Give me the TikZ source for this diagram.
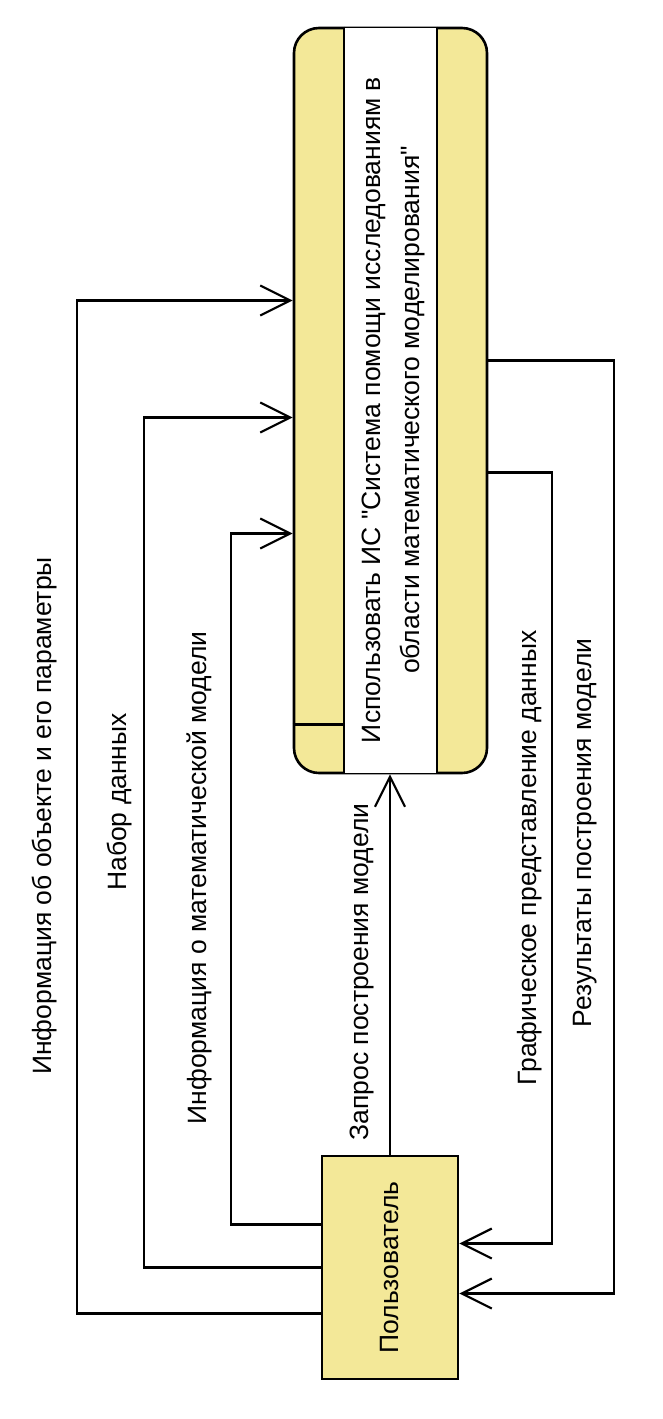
\documentclass[tikz,border=0pt]{standalone}
\usepackage{fontspec}
\setmainfont{Liberation Sans}[Ligatures=TeXOff]
\usetikzlibrary{positioning, arrows.meta}

\definecolor{idefyellow}{RGB}{243,232,152}

\begin{document}
\begin{tikzpicture}[
x=1pt, y=-1pt,
box/.style={rectangle, draw, line width=2.6pt, fill=idefyellow, inner sep=0pt},
arrow/.style={-{Straight Barb[length=30pt, width=30pt, line width=2.2pt]}, line width=2.2pt},
lbl/.style={rotate=90, inner sep=0pt, font=\fontsize{26.5}{39}\selectfont}
]
\useasboundingbox (0,0) rectangle (663,1419);

\node[box, rounded corners=25pt, minimum width=193pt, minimum height=745pt] (ctx_process) at (390.5,400.5) {};
\node[box, minimum width=136pt, minimum height=223pt] (ctx_user) at (390,1267.5) {};

% white band of the process box
\fill[white] ([xshift=-46.5pt, yshift=-1.3pt]ctx_process.north) rectangle ([xshift=46.5pt, yshift=1.3pt]ctx_process.south);
\draw[line width=2.4pt] ([xshift=-46.5pt]ctx_process.north) -- ([xshift=-46.5pt]ctx_process.south);
\draw[line width=2.4pt] ([xshift=46.5pt]ctx_process.north) -- ([xshift=46.5pt]ctx_process.south);
\draw[line width=2.4pt] ([yshift=50pt]ctx_process.south west) -- ([xshift=50pt, yshift=50pt]ctx_process.south west);

\node[lbl, align=center] (ctx_process_text) at (393,410) {Использовать ИС "Система помощи исследованиям в\\области математического моделирования"};
\node[lbl] (ctx_user_text) at (ctx_user.center) {Пользователь};

% inputs
\draw[arrow] ([yshift=-46pt]ctx_user.west) -- ++(-244,0) |- ([yshift=100pt]ctx_process.west);
\draw[arrow] (ctx_user.west) -- ++(-177,0) |- ([yshift=-17pt]ctx_process.west);
\draw[arrow] ([yshift=43pt]ctx_user.west) -- ++(-90,0) |- ([yshift=-133pt]ctx_process.west);
% control
\draw[arrow] (ctx_user.north) -- (ctx_user.north |- ctx_process.south);
% outputs
\draw[arrow] ([yshift=40pt]ctx_process.east) -- ++(126,0) |- ([yshift=-26pt]ctx_user.east);
\draw[arrow] ([yshift=-72pt]ctx_process.east) -- ++(64,0) |- ([yshift=24pt]ctx_user.east);

\node[lbl] (lbl_object) at (45,816) {Информация об объекте и его параметры};
\node[lbl] (lbl_dataset) at (120,802) {Набор данных};
\node[lbl] (lbl_mathmodel) at (199,878) {Информация о математической модели};
\node[lbl] (lbl_request) at (362,972) {Запрос построения модели};
\node[lbl] (lbl_graphic) at (530,858) {Графическое представление данных};
\node[lbl] (lbl_results) at (585,833) {Результаты построения модели};

\end{tikzpicture}
\end{document}
